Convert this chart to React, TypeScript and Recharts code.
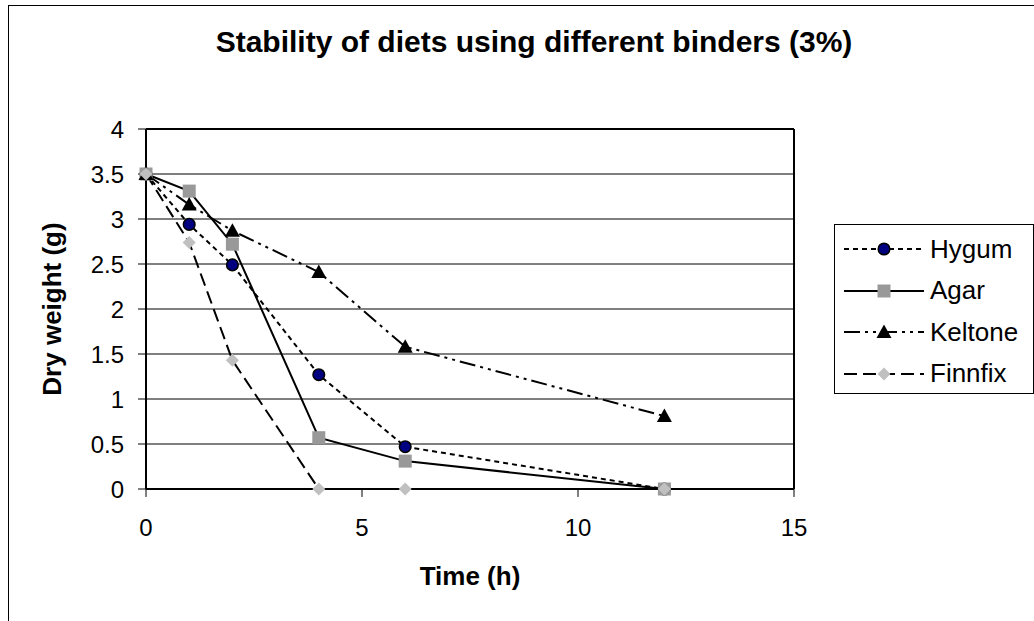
import React from "react"
import { LineChart, Line, XAxis, YAxis, CartesianGrid, ReferenceLine } from "recharts"

// time points (h)
const hours = [0, 1, 2, 4, 6, 12]

// dry weight (g) per binder
const hygum = [3.5, 2.94, 2.49, 1.27, 0.47, 0]
const agar = [3.5, 3.31, 2.72, 0.57, 0.31, 0]
const keltone = [3.5, 3.16, 2.87, 2.41, 1.58, 0.81]
const finnfix = [3.5, 2.74, 1.43, 0, 0, 0]

const xTicks = [0, 5, 10, 15]
const yTicks = [0, 0.5, 1, 1.5, 2, 2.5, 3, 3.5, 4]

const data = hours.map((h, i) => ({
  time: h,
  Hygum: hygum[i],
  Agar: agar[i],
  Keltone: keltone[i],
  Finnfix: finnfix[i],
}))

const FONT = "'Liberation Sans', Arial, sans-serif"

// marker shapes, Excel style
const Circle = ({ cx, cy }: any) => (
  <circle cx={cx} cy={cy} r={5.8} fill="#000080" stroke="#000" strokeWidth={1.5} />
)
const Square = ({ cx, cy }: any) => (
  <rect x={cx - 6.5} y={cy - 6.5} width={13} height={13} fill="#999999" />
)
const Triangle = ({ cx, cy }: any) => (
  <path d={`M${cx},${cy - 7.5} L${cx + 7.5},${cy + 6} L${cx - 7.5},${cy + 6} Z`} fill="#000" />
)
const Diamond = ({ cx, cy }: any) => (
  <path d={`M${cx},${cy - 6.5} L${cx + 6.5},${cy} L${cx},${cy + 6.5} L${cx - 6.5},${cy} Z`} fill="#C0C0C0" />
)

const series = [
  { key: "Hygum", dash: "5 4", Marker: Circle },
  { key: "Agar", dash: undefined, Marker: Square },
  { key: "Keltone", dash: "16 5 3 5 3 5", Marker: Triangle },
  { key: "Finnfix", dash: "13 6", Marker: Diamond },
]

const LegendBox = () => (
  <div
    style={{
      position: "absolute",
      left: 834,
      top: 224,
      width: 198,
      height: 168,
      border: "1px solid #000",
      background: "#fff",
      fontFamily: FONT,
      fontSize: 26,
    }}
  >
    {series.map((s, i) => (
      <div key={s.key} style={{ position: "absolute", left: 7, top: 9 + i * 41.5, height: 30, display: "flex", alignItems: "center" }}>
        <svg width={84} height={30}>
          <line x1={2} y1={15} x2={82} y2={15} stroke="#000" strokeWidth={2} strokeDasharray={s.dash} />
          <s.Marker cx={42} cy={15} />
        </svg>
        <span style={{ marginLeft: 4 }}>{s.key}</span>
      </div>
    ))}
  </div>
)

export default function App() {
  return (
    <div style={{ position: "absolute", left: 0, top: 0, width: 1034, height: 621, background: "#fff", overflow: "hidden" }}>
      <div style={{ position: "absolute", left: 8, top: 5, width: 1100, height: 700, border: "1px solid #000" }} />
      <div
        style={{
          position: "absolute",
          left: 0,
          width: 1068,
          top: 25,
          textAlign: "center",
          fontFamily: FONT,
          fontWeight: "bold",
          fontSize: 30,
        }}
      >
        Stability of diets using different binders (3%)
      </div>
      <div style={{ position: "absolute", left: 0, top: 0 }}>
        <LineChart
          width={1034}
          height={621}
          data={data}
          margin={{ top: 129, right: 240, left: 86, bottom: 22 }}
        >
          <CartesianGrid horizontal vertical={false} stroke="#000" strokeWidth={1} />
          <XAxis
            dataKey="time"
            type="number"
            domain={[0, 15]}
            ticks={xTicks}
            height={110}
            tickSize={8}
            axisLine={{ stroke: "#000", strokeWidth: 2 }}
            tickLine={{ stroke: "#000" }}
            tick={{ fill: "#000", fontSize: 24, fontFamily: FONT, dy: 20 }}
            label={{ value: "Time (h)", position: "insideBottom", offset: 14, fill: "#000", fontSize: 26, fontWeight: "bold", fontFamily: FONT }}
          />
          <YAxis
            type="number"
            domain={[0, 4]}
            ticks={yTicks}
            width={60}
            tickSize={8}
            tickMargin={0}
            interval={0}
            axisLine={{ stroke: "#000", strokeWidth: 2 }}
            tickLine={{ stroke: "#000" }}
            tick={{ fill: "#000", fontSize: 24, fontFamily: FONT, dx: -14 }}
            label={{ value: "Dry weight (g)", angle: -90, position: "center", dx: -64, fill: "#000", fontSize: 26, fontWeight: "bold", fontFamily: FONT }}
          />
          <ReferenceLine x={15} stroke="#000" strokeWidth={2} />
          <ReferenceLine y={4} stroke="#000" strokeWidth={2} />
          {series.map((s) => (
            <Line
              key={s.key}
              dataKey={s.key}
              type="linear"
              stroke="#000"
              strokeWidth={2}
              strokeDasharray={s.dash}
              dot={(p: any) => <s.Marker key={`${s.key}-${p.index}`} cx={p.cx} cy={p.cy} />}
              activeDot={false}
              isAnimationActive={false}
            />
          ))}
        </LineChart>
      </div>
      <LegendBox />
    </div>
  )
}
